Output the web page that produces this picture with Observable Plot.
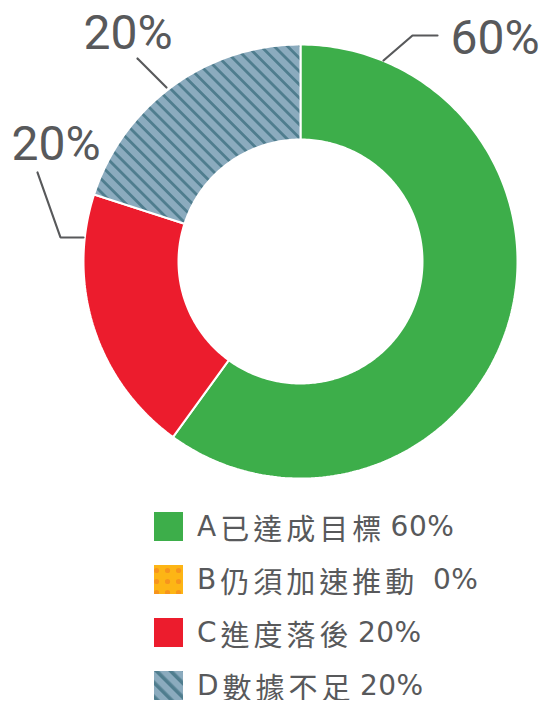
<!DOCTYPE html>
<html><head><meta charset="utf-8">
<script src="https://cdn.jsdelivr.net/npm/d3@7"></script>
<script src="https://cdn.jsdelivr.net/npm/@observablehq/plot@0.6"></script>
<style>
html,body{margin:0;background:#fff;}
#chart{width:551px;position:relative;}
#chart > svg{display:block;}
.legend{margin-left:154px;margin-top:12px;color:#58595b;}
.row{display:flex;align-items:center;height:29px;margin-bottom:24px;}
.row:last-child{margin-bottom:0;}
.row svg{flex:none;margin-right:14px;display:block;}
.row span{white-space:pre;line-height:28px;height:28px;display:inline-block;}
.lat{font-family:"DejaVu Sans",sans-serif;font-size:28px;letter-spacing:0.5px;}
.lat.key{letter-spacing:4px;}
.cjk{font-family:"Noto Sans CJK TC",sans-serif;font-size:29px;letter-spacing:4px;}
</style></head><body>
<svg width="0" height="0" style="position:absolute">
<defs>
<pattern id="hatch" patternUnits="userSpaceOnUse" width="9.4" height="9.4" patternTransform="rotate(-45)">
<rect width="9.4" height="9.4" fill="#8BABBE"/><rect width="2.8" height="9.4" fill="#4F7D8E"/>
</pattern>
<pattern id="hatchLegend" patternUnits="userSpaceOnUse" width="10" height="10" patternTransform="rotate(-45)">
<rect width="10" height="10" fill="#8BABBE"/><rect width="3.6" height="10" fill="#4F7D8E"/>
</pattern>
<pattern id="dots" patternUnits="userSpaceOnUse" width="11" height="11">
<rect width="11" height="11" fill="#FDB515"/><circle cx="2.5" cy="5.5" r="2.6" fill="#F7941D"/>
</pattern>
</defs></svg>
<div id="chart"></div>
<script>
// ---- data ----
const categories = ["A", "B", "C", "D"];
const names = ["已達成目標", "仍須加速推動", "進度落後", "數據不足"];
const values = [60, 0, 20, 20];
const legendGaps = [" ", "  ", " ", " "];

// ---- styles ----
const fills = ["#3DAE4A", "url(#dots)", "#EC1C2D", "url(#hatch)"];
const legendFills = ["#3DAE4A", "url(#dots)", "#EC1C2D", "url(#hatchLegend)"];
const legendWordSpacing = ["-4px", "-2px", "-4px", "-4px"];
const textColor = "#58595b";

// ---- layout (pixels relative to donut centre, y up) ----
const W = 551, H = 500, CX = 300, CY = 261, R = 217, R0 = 122;
const leaderPaths = {
  A: [[83, 201], [112, 226], [137, 226]],
  C: [[-263, 89], [-240, 24], [-217, 24]],
  D: [[-163, 203], [-134, 174]]
};
const labelPos = { A: [150, 242], C: [-289, 136], D: [-217, 247] };

const data = categories.map((c, i) => ({ key: c, name: names[i], value: values[i], fill: fills[i] }));
const arcs = d3.pie().sort(null).value(d => d.value)(data);

function ringPolygon(a0, a1) {
  const n = Math.max(2, Math.ceil((a1 - a0) / (2 * Math.PI) * 360) + 1);
  const pts = [];
  for (let k = 0; k < n; k++) { const a = a0 + (a1 - a0) * k / (n - 1); pts.push({ x: R * Math.sin(a), y: R * Math.cos(a) }); }
  for (let k = n - 1; k >= 0; k--) { const a = a0 + (a1 - a0) * k / (n - 1); pts.push({ x: R0 * Math.sin(a), y: R0 * Math.cos(a) }); }
  pts.push(pts[0]);
  return pts;
}

const sliceMarks = arcs.filter(a => a.data.value > 0).map(a =>
  Plot.line(ringPolygon(a.startAngle, a.endAngle), {
    x: "x", y: "y", fill: a.data.fill, stroke: "white", strokeWidth: 2, strokeLinejoin: "miter", curve: "linear"
  })
);

const leaderRows = [];
data.filter(d => d.value > 0).forEach(d => leaderPaths[d.key].forEach(p => leaderRows.push({ key: d.key, x: p[0], y: p[1] })));

const labelRows = data.filter(d => d.value > 0).map(d => ({ key: d.key, text: `${d.value}%`, x: labelPos[d.key][0], y: labelPos[d.key][1] }));

const plot = Plot.plot({
  width: W, height: H, margin: 0,
  style: { fontFamily: "Roboto, 'Noto Sans CJK TC', sans-serif", background: "white", overflow: "visible" },
  x: { domain: [-CX, W - CX], range: [0, W], axis: null },
  y: { domain: [CY - H, CY], range: [H, 0], axis: null },
  marks: [
    ...sliceMarks,
    Plot.line(leaderRows, { x: "x", y: "y", z: "key", stroke: textColor, strokeWidth: 2.2, strokeLinejoin: "miter", curve: "linear" }),
    Plot.text(labelRows, { x: "x", y: "y", text: "text", textAnchor: "start", lineAnchor: "top", fontSize: 48, fill: textColor, fontFamily: "Roboto" })
  ]
});
document.getElementById("chart").appendChild(plot);

// ---- legend (HTML, below the plot) ----
const legend = d3.select("#chart").append("div").attr("class", "legend");
data.forEach((d, i) => {
  const row = legend.append("div").attr("class", "row");
  const sw = row.append("svg").attr("width", 29).attr("height", 29);
  sw.append("rect").attr("width", 29).attr("height", 29).attr("fill", legendFills[i]);
  row.append("span").attr("class", "lat key").text(d.key);
  row.append("span").attr("class", "cjk").text(d.name);
  row.append("span").attr("class", "lat").style("word-spacing", legendWordSpacing[i]).text(`${legendGaps[i]}${d.value}%`);
});
</script>
</body></html>
